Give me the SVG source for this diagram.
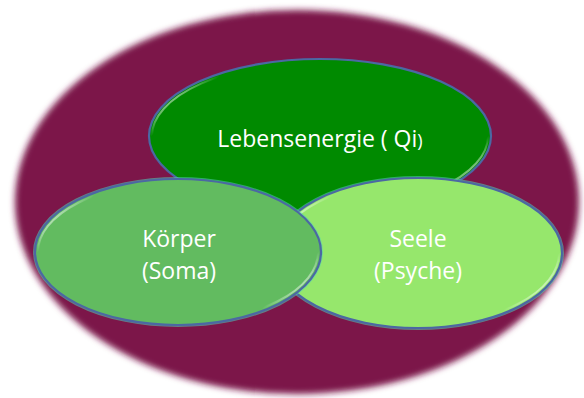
<svg xmlns="http://www.w3.org/2000/svg" width="584" height="398" viewBox="0 0 584 398">
  <defs>
    <filter id="soft" x="-10%" y="-10%" width="120%" height="120%">
      <feGaussianBlur stdDeviation="3"/>
    </filter>
    <filter id="glow" x="-10%" y="-10%" width="120%" height="120%">
      <feGaussianBlur stdDeviation="0.7"/>
    </filter>
    <linearGradient id="hl" x1="0" y1="0.25" x2="1" y2="0.75">
      <stop offset="0" stop-color="#ffffff" stop-opacity="1"/>
      <stop offset="0.1" stop-color="#ffffff" stop-opacity="0"/>
      <stop offset="0.9" stop-color="#ffffff" stop-opacity="0"/>
      <stop offset="1" stop-color="#ffffff" stop-opacity="1"/>
    </linearGradient>
  </defs>
  <style>
    .rim { fill: none; stroke: #4b68a3; stroke-width: 2.2; }
    .hl { fill: none; stroke: url(#hl); stroke-width: 2; filter: url(#glow); }
    .aura { fill: none; stroke: #52d2b4; stroke-width: 4; opacity: 0.55; filter: url(#glow); }
    .lbl { font-family: "Open Sans", "Noto Sans", sans-serif; font-size: 23px; fill: #ffffff; text-anchor: middle; }
  </style>

  <g id="outer">
    <ellipse cx="297" cy="202" rx="282" ry="192" fill="#7b154a" filter="url(#soft)"/>
  </g>

  <g id="lebensenergie">
    <ellipse cx="320" cy="136" rx="171" ry="77" fill="#008a00"/>
    <ellipse class="rim" cx="320" cy="136" rx="171" ry="77"/>
    <ellipse class="hl" cx="320" cy="136" rx="168" ry="74"/>
    <text class="lbl" x="320" y="147">Lebensenergie ( Qi<tspan font-size="18">)</tspan></text>
  </g>

  <g id="seele">
    <ellipse class="aura" cx="418" cy="253" rx="144" ry="75"/>
    <ellipse cx="418" cy="253" rx="144" ry="75" fill="#96e76c"/>
    <ellipse class="rim" cx="418" cy="253" rx="144" ry="75"/>
    <ellipse class="hl" cx="418" cy="253" rx="141" ry="72"/>
    <text class="lbl" x="418" y="247">Seele</text>
    <text class="lbl" x="418" y="279">(Psyche)</text>
  </g>

  <g id="koerper">
    <ellipse class="aura" cx="178" cy="252" rx="143" ry="73"/>
    <ellipse cx="178" cy="252" rx="143" ry="73" fill="#62bb60"/>
    <ellipse class="rim" cx="178" cy="252" rx="143" ry="73"/>
    <ellipse class="hl" cx="178" cy="252" rx="140" ry="70"/>
    <text class="lbl" x="179" y="247">Körper</text>
    <text class="lbl" x="179" y="279">(Soma)</text>
  </g>

  <g id="connectors"/>
</svg>
